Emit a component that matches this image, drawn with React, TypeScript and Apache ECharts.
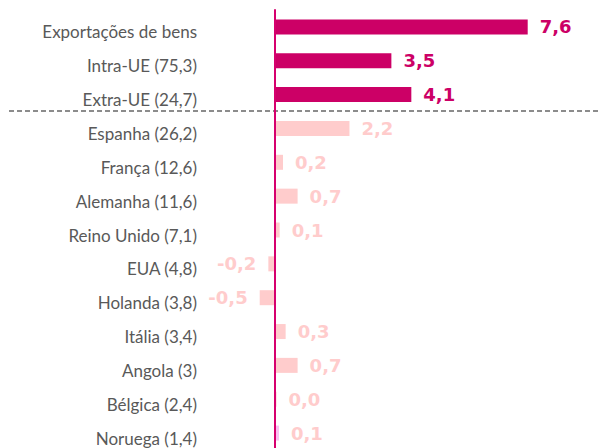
import React, { useEffect, useRef } from "react";
import * as echarts from "echarts";

const categories = [
  "Exportações de bens",
  "Intra-UE (75,3)",
  "Extra-UE (24,7)",
  "Espanha (26,2)",
  "França (12,6)",
  "Alemanha (11,6)",
  "Reino Unido (7,1)",
  "EUA (4,8)",
  "Holanda (3,8)",
  "Itália (3,4)",
  "Angola (3)",
  "Bélgica (2,4)",
  "Noruega (1,4)",
];

const values = [7.6, 3.5, 4.1, 2.24, 0.24, 0.68, 0.14, -0.2, -0.46, 0.32, 0.68, 0.045, 0.12];

const DARK = "#CC0066";
const LIGHT = "#FFCCCC";
const NORUEGA = "#F9C2F3";

const barColors = [DARK, DARK, DARK, LIGHT, LIGHT, LIGHT, LIGHT, LIGHT, LIGHT, LIGHT, LIGHT, LIGHT, NORUEGA];
const labelColors = [DARK, DARK, DARK, LIGHT, LIGHT, LIGHT, LIGHT, LIGHT, LIGHT, LIGHT, LIGHT, LIGHT, LIGHT];

export default function App() {
  const ref = useRef<HTMLDivElement>(null);
  useEffect(() => {
    document.body.style.margin = "0";
    if (!ref.current) return;
    const chart = echarts.init(ref.current, null, { renderer: "svg" });
    chart.setOption({
      animation: false,
      backgroundColor: "#ffffff",
      grid: {
        left: 9,
        top: 10,
        width: 532,
        height: 440,
        containLabel: false,
        outerBoundsMode: "none",
      },
      xAxis: {
        type: "value",
        min: -8,
        max: 8,
        show: false,
        splitLine: { show: false },
      },
      yAxis: {
        type: "category",
        inverse: true,
        data: categories,
        axisLine: { show: true, onZero: true, lineStyle: { color: "#D6006E", width: 2 } },
        axisTick: { show: false },
        axisLabel: {
          margin: -188,
          color: "#595959",
          fontSize: 17,
          fontFamily: "Lato",
          verticalAlign: "top",
          lineHeight: 10,
        },
        z: 5,
      },
      graphic: [
        {
          type: "line",
          shape: { x1: 9, y1: 111, x2: 601, y2: 111 },
          style: { stroke: "#8C8C8C", lineWidth: 2, lineDash: [5, 3] },
          z: 1,
        },
      ],
      series: [
        {
          type: "bar",
          barWidth: 15,
          barMinHeight: 0,
          data: values.map((v, i) => ({
            value: v,
            itemStyle: { color: barColors[i] },
            label: {
              show: true,
              position: v < 0 ? "left" : "right",
              distance: 12,
              color: labelColors[i],
              fontWeight: "bold",
              fontSize: 18,
              fontFamily: "DejaVu Sans",
              formatter: () => v.toFixed(1).replace(".", ","),
            },
          })),
        },
      ],
    });
    return () => chart.dispose();
  }, []);
  return <div ref={ref} style={{ width: 601, height: 448 }} />;
}
